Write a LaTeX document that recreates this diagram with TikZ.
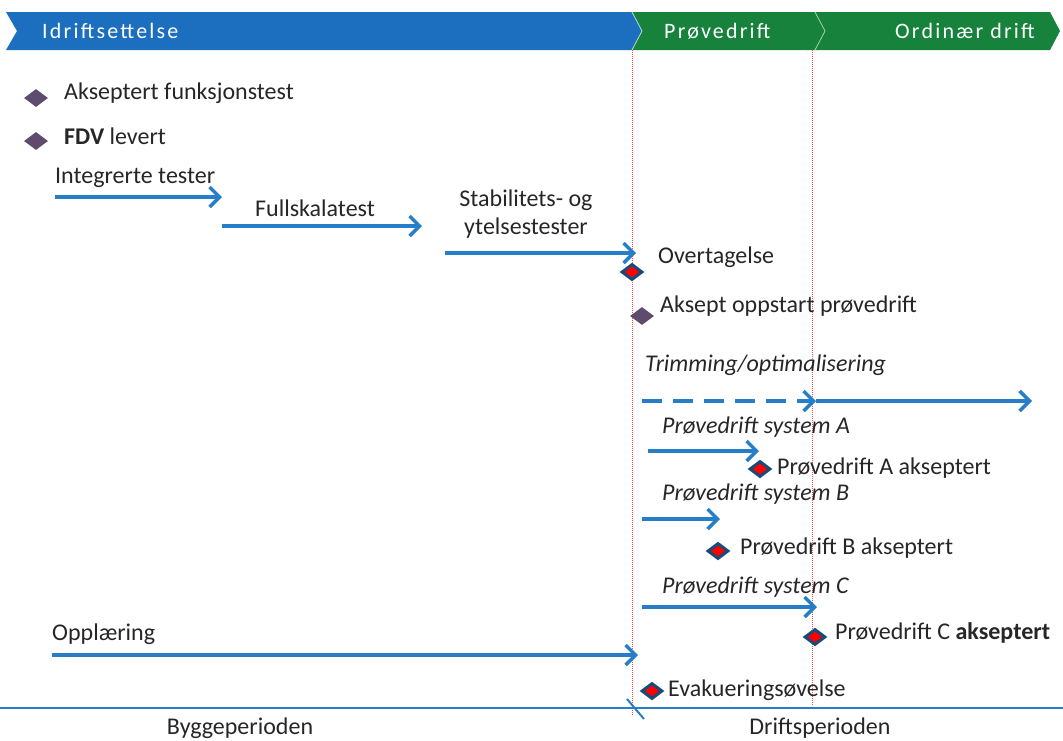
\documentclass[tikz,border=0pt]{standalone}
\usepackage{fontspec}
\setmainfont{Carlito}
\usetikzlibrary{shapes.geometric,arrows.meta}
\definecolor{phaseblue}{RGB}{28,110,190}
\definecolor{phasegreen}{RGB}{22,130,60}
\definecolor{flowblue}{RGB}{38,125,200}
\definecolor{milepurple}{RGB}{95,75,110}
\definecolor{mileedge}{RGB}{25,75,120}

\begin{document}
\begin{tikzpicture}[
  x=1pt,
  y=-1pt,
  lbl/.style={
    anchor=west,
    inner sep=0pt,
    text=black!85,
    font=\fontsize{24}{28}\selectfont
  },
  phase/.style={
    anchor=west,
    inner sep=0pt,
    text=white,
    font=\fontsize{22}{24}\selectfont\addfontfeatures{LetterSpace=10}
  },
  flow/.style={
    flowblue,
    line width=3.5pt,
    -{Straight Barb[length=10pt,width=20pt,line width=3.5pt]}
  },
  milestone/.style={
    diamond,
    fill=milepurple,
    inner sep=0pt,
    minimum width=24pt,
    minimum height=18pt
  },
  redmile/.style={
    diamond,
    fill=red,
    draw=mileedge,
    line width=3pt,
    inner sep=0pt,
    minimum width=21pt,
    minimum height=16pt
  },
  period/.style={
    red!70,
    densely dotted,
    line width=1pt
  },
]
\useasboundingbox (0,0) rectangle (1063,740);

% banner
\fill[phaseblue] (6,12) -- (632,12) -- (642,31) -- (632,50) -- (6,50) -- (17,31) -- cycle;
\fill[phasegreen] (632,12) -- (815,12) -- (825,31) -- (815,50) -- (632,50) -- (642,31) -- cycle;
\fill[phasegreen] (815,12) -- (1050,12) -- (1060,31) -- (1050,50) -- (815,50) -- (825,31) -- cycle;
\draw[white!70!phasegreen, line width=0.8pt] (632,12) -- (642,31) -- (632,50);
\draw[white!60!phasegreen, line width=0.8pt] (815,12) -- (825,31) -- (815,50);
\node[phase] (idrift) at (42,31) {Idriftsettelse};
\node[phase] (prove) at (664,31) {Prøvedrift};
\node[phase, anchor=east] (ordin) at (1035,31) {Ordinær drift};

% period borders
\draw[period] (632,50) -- (632,715);
\draw[period] (812,50) -- (812,706);

% build period
\node[milestone] (mfunk) at (36,98) {};
\node[lbl] (funk) at (64,93) {Akseptert funksjonstest};
\node[milestone] (mfdv) at (36,141) {};
\node[lbl] (fdv) at (64,136) {\textbf{FDV} levert};

\node[lbl] (integ) at (55,178) {Integrerte tester};
\coordinate (integA) at (55,197);
\coordinate (integB) at (222,197);
\draw[flow] (integA) -- (integB);

\node[lbl] (full) at (255,208) {Fullskalatest};
\coordinate (fullA) at (222,226);
\coordinate (fullB) at (422,226);
\draw[flow] (fullA) -- (fullB);

\node[lbl, anchor=center, align=center] (stab) at (526,214) {Stabilitets- og\\ytelsestester};
\coordinate (stabA) at (445,253);
\coordinate (stabB) at (636,253);
\draw[flow] (stabA) -- (stabB);

\node[lbl] (oppl) at (52,634) {Opplæring};
\coordinate (opplA) at (52,655);
\coordinate (opplB) at (638,655);
\draw[flow] (opplA) -- (opplB);

% operation period
\node[redmile] (movert) at (632,272) {};
\node[lbl] (overt) at (658,257) {Overtagelse};
\node[milestone] (maksept) at (642,316) {};
\node[lbl] (aksept) at (660,306) {Aksept oppstart prøvedrift};

\node[lbl, font=\fontsize{24}{28}\itshape] (trim) at (645,365) {Trimming/optimalisering};
\coordinate (trimA) at (642,401);
\coordinate (trimB) at (816,401);
\coordinate (trimC) at (1032,401);
\draw[flow, dash pattern=on 20pt off 11pt] (trimA) -- (trimB);
\draw[flow] (trimB) -- (trimC);

\node[lbl, font=\fontsize{24}{28}\itshape] (sysA) at (662,427) {Prøvedrift system A};
\coordinate (sysAa) at (648,451);
\coordinate (sysAb) at (759,451);
\draw[flow] (sysAa) -- (sysAb);
\node[redmile] (mA) at (760,469) {};
\node[lbl] (okA) at (777,468) {Prøvedrift A akseptert};

\node[lbl, font=\fontsize{24}{28}\itshape] (sysB) at (662,494) {Prøvedrift system B};
\coordinate (sysBa) at (642,519);
\coordinate (sysBb) at (720,519);
\draw[flow] (sysBa) -- (sysBb);
\node[redmile] (mB) at (718,551) {};
\node[lbl] (okB) at (740,548) {Prøvedrift B akseptert};

\node[lbl, font=\fontsize{24}{28}\itshape] (sysC) at (662,587) {Prøvedrift system C};
\coordinate (sysCa) at (642,607);
\coordinate (sysCb) at (817,607);
\draw[flow] (sysCa) -- (sysCb);
\node[redmile] (mC) at (815,637) {};
\node[lbl] (okC) at (835,633) {Prøvedrift C \textbf{akseptert}};

\node[redmile] (mevak) at (652,691) {};
\node[lbl] (evak) at (668,690) {Evakueringsøvelse};

% time axis
\coordinate (axisA) at (0,708);
\coordinate (axisB) at (1063,708);
\draw[flowblue, line width=2.5pt] (axisA) -- (axisB);
\coordinate (tickA) at (627,699);
\coordinate (tickB) at (644,719);
\draw[flowblue, line width=2pt] (tickA) -- (tickB);
\node[lbl, anchor=center] (bygg) at (240,728) {Byggeperioden};
\node[lbl, anchor=center] (drift) at (820,728) {Driftsperioden};
\end{tikzpicture}
\end{document}
